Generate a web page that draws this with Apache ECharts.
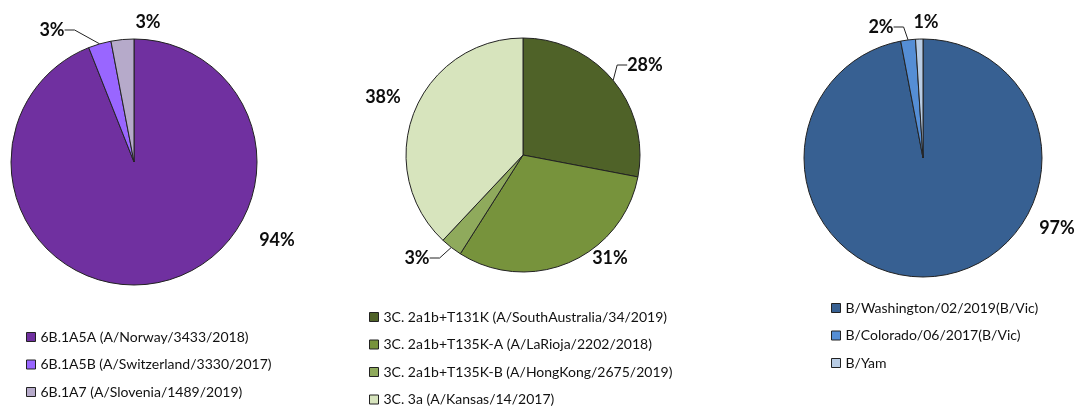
<!DOCTYPE html>
<html>
<head>
<meta charset="utf-8">
<script src="https://cdn.jsdelivr.net/npm/echarts@6/dist/echarts.min.js"></script>
<style>
  html, body { margin: 0; padding: 0; background: #fff; }
  #main { width: 1077px; height: 406px; }
</style>
</head>
<body>
<div id="main"></div>
<script>
// H1 clades
const h1Names = ['6B.1A5A (A/Norway/3433/2018)', '6B.1A5B (A/Switzerland/3330/2017)', '6B.1A7 (A/Slovenia/1489/2019)'];
const h1Values = [94, 3, 3];
const h1Colors = ['#7030A0', '#9966FF', '#B6AACA'];

// H3 clades
const h3Names = ['3C. 2a1b+T131K (A/SouthAustralia/34/2019)', '3C. 2a1b+T135K-A (A/LaRioja/2202/2018)', '3C. 2a1b+T135K-B (A/HongKong/2675/2019)', '3C. 3a (A/Kansas/14/2017)'];
const h3Values = [28, 31, 3, 38];
const h3Colors = ['#4F6228', '#77933C', '#8FAA5C', '#D7E4BD'];

// B lineages
const bNames = ['B/Washington/02/2019(B/Vic)', 'B/Colorado/06/2017(B/Vic)', 'B/Yam'];
const bValues = [97, 2, 1];
const bColors = ['#376092', '#558ED5', '#B9CDE5'];

const FONT = 'Lato, "Open Sans", sans-serif';

var myChart = echarts.init(document.getElementById('main'));

// pie geometry (px), label centre offsets from pie centre, which labels get a leader line
const pies = [
  { names: h1Names, values: h1Values, colors: h1Colors, cx: 134, cy: 162, r: 123, legendLeft: 26, legendTop: 330,
    labelPos: [[143, 78], [-82, -132], [14, -140]], lines: [false, true, false] },
  { names: h3Names, values: h3Values, colors: h3Colors, cx: 523, cy: 155, r: 117, legendLeft: 369, legendTop: 310,
    labelPos: [[122, -90], [87, 103], [-106, 103], [-140, -58]], lines: [true, false, true, false] },
  { names: bNames, values: bValues, colors: bColors, cx: 923, cy: 158, r: 119, legendLeft: 831, legendTop: 301,
    labelPos: [[134, 70], [-42, -131], [3, -136]], lines: [false, true, false] }
];

// put labels roughly where excel's best fit had them
function placeLabel(p) {
  return function (params) {
    const off = p.labelPos[params.dataIndex];
    return {
      x: p.cx + off[0],
      y: p.cy + off[1],
      align: 'center',
      verticalAlign: 'middle'
    };
  };
}

var option = {
  animation: false,
  textStyle: { fontFamily: FONT },
  legend: pies.map(p => ({
    orient: 'vertical',
    left: p.legendLeft,
    top: p.legendTop,
    height: 150,
    padding: 0,
    data: p.names,
    icon: 'rect',
    itemWidth: 9,
    itemHeight: 9,
    itemGap: 13.5,
    textStyle: { fontFamily: FONT, fontSize: 14, color: '#111' },
    itemStyle: { borderColor: '#222', borderWidth: 1 }
  })),
  series: pies.map(p => ({
    type: 'pie',
    center: [p.cx, p.cy],
    radius: p.r,
    startAngle: 90,
    clockwise: true,
    avoidLabelOverlap: false,
    itemStyle: { borderColor: '#222', borderWidth: 1 },
    label: {
      show: true,
      position: 'outside',
      formatter: '{d}%',
      fontFamily: FONT,
      fontWeight: 'bold',
      fontSize: 18,
      color: '#0d0d0d'
    },
    labelLine: { show: true, length: 6, length2: 10, lineStyle: { color: '#222', width: 1 } },
    labelLayout: placeLabel(p),
    emphasis: { disabled: true },
    data: p.names.map((n, i) => ({
      name: n,
      value: p.values[i],
      itemStyle: { color: p.colors[i] },
      labelLine: { show: p.lines[i] }
    }))
  }))
};

myChart.setOption(option);
</script>
</body>
</html>
